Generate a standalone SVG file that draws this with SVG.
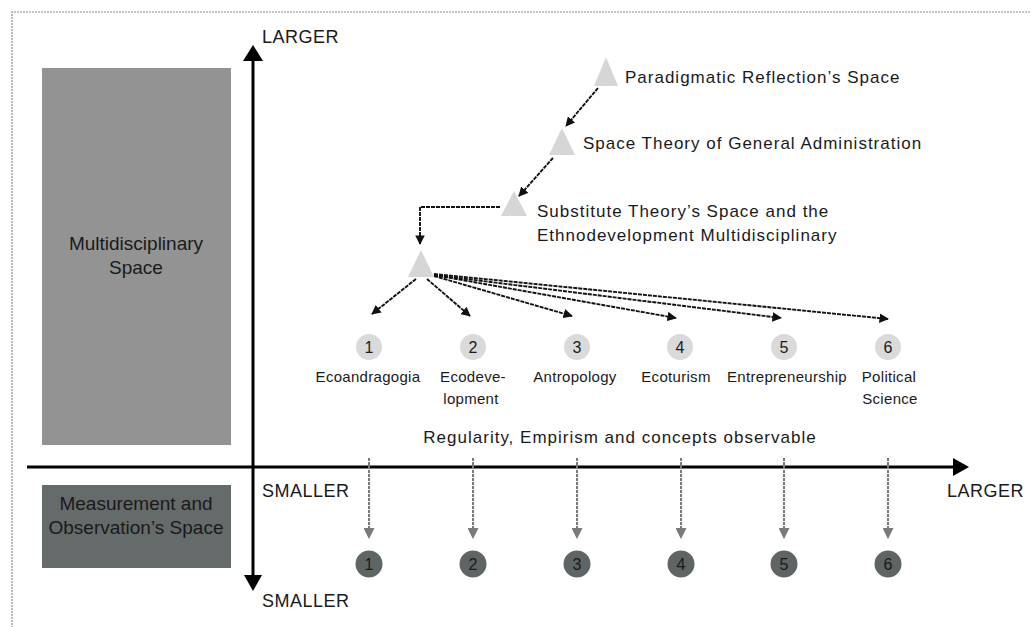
<svg xmlns="http://www.w3.org/2000/svg" width="1030" height="627" viewBox="0 0 1030 627">
<defs>
<style>
text{font-family:"Liberation Sans",Arial,sans-serif;fill:#1a1a1a}
.axis{stroke:#000;stroke-width:3;fill:none}
.ax-lbl{font-size:18px;letter-spacing:0.5px}
.title{font-size:17px;letter-spacing:1px}
.lbl{font-size:15px;letter-spacing:0.3px;text-anchor:middle}
.num{font-size:16px;text-anchor:middle}
.box-t{font-size:19px;text-anchor:middle}
.tri{fill:#d6d6d6}
.c-top{fill:#dadada}
.c-bot{fill:#5f6464}
.con{stroke:#111;stroke-width:1.9;fill:none;stroke-dasharray:4 1}
.con-g{stroke:#7a7a7a;stroke-width:2;fill:none;stroke-dasharray:3 1}
</style>
<marker id="ah" viewBox="0 0 10 10" refX="9" refY="5" markerWidth="5" markerHeight="5" orient="auto" markerUnits="strokeWidth">
<path d="M0,0 L10,5 L0,10 z" fill="#111"/>
</marker>
<marker id="ahg" viewBox="0 0 10 10" refX="9" refY="5" markerWidth="5.5" markerHeight="5.5" orient="auto" markerUnits="strokeWidth">
<path d="M0,0 L10,5 L0,10 z" fill="#7a7a7a"/>
</marker>
</defs>
<rect width="1030" height="627" fill="#fff"/>
<!-- frame -->
<path d="M1030,12 H12 V627" fill="none" stroke="#8a8a8a" stroke-width="1.2" stroke-dasharray="2 1"/>

<!-- spaces -->
<g id="multidisciplinary-space">
<rect x="42" y="68" width="189" height="377" fill="#939393"/>
<text class="box-t" x="136" y="250">Multidisciplinary</text>
<text class="box-t" x="136" y="274">Space</text>
</g>
<g id="measurement-space">
<rect x="42" y="485" width="189" height="83" fill="#656a6a"/>
<text class="box-t" x="136" y="510">Measurement and</text>
<text class="box-t" x="136" y="534">Observation’s Space</text>
</g>

<!-- axes -->
<g id="axes">
<line class="axis" x1="253" y1="58" x2="253" y2="578"/>
<path d="M253,45 L263,61 L243,61 z" fill="#000"/>
<path d="M253,591 L262,575 L244,575 z" fill="#000"/>
<line class="axis" x1="27" y1="467" x2="955" y2="467"/>
<path d="M969,467 L953,458 L953,476 z" fill="#000"/>
<text class="ax-lbl" x="262" y="43">LARGER</text>
<text class="ax-lbl" x="262" y="497">SMALLER</text>
<text class="ax-lbl" x="262" y="607">SMALLER</text>
<text class="ax-lbl" x="947" y="497">LARGER</text>
</g>

<!-- connectors -->
<g id="connectors">
<line class="con" x1="598" y1="88" x2="566" y2="126" marker-end="url(#ah)"/>
<line class="con" x1="553" y1="158" x2="519" y2="196" marker-end="url(#ah)"/>
<polyline class="con" points="500,207 420,207 420,244" marker-end="url(#ah)"/>
<line class="con" x1="416" y1="279" x2="372" y2="314" marker-end="url(#ah)"/>
<line class="con" x1="427" y1="279" x2="470" y2="316" marker-end="url(#ah)"/>
<line class="con" x1="434" y1="276" x2="572" y2="316" marker-end="url(#ah)"/>
<line class="con" x1="434" y1="275" x2="676" y2="318" marker-end="url(#ah)"/>
<line class="con" x1="434" y1="275" x2="781" y2="318" marker-end="url(#ah)"/>
<line class="con" x1="434" y1="274" x2="888" y2="319" marker-end="url(#ah)"/>
<line class="con-g" x1="369" y1="458" x2="369" y2="538" marker-end="url(#ahg)"/>
<line class="con-g" x1="473" y1="458" x2="473" y2="538" marker-end="url(#ahg)"/>
<line class="con-g" x1="577" y1="458" x2="577" y2="538" marker-end="url(#ahg)"/>
<line class="con-g" x1="681" y1="458" x2="681" y2="538" marker-end="url(#ahg)"/>
<line class="con-g" x1="784" y1="458" x2="784" y2="538" marker-end="url(#ahg)"/>
<line class="con-g" x1="888" y1="458" x2="888" y2="538" marker-end="url(#ahg)"/>
</g>

<!-- hierarchy nodes -->
<g id="paradigmatic">
<path class="tri" d="M606,57 L618,86 L594,86 z"/>
<text class="title" x="625" y="83">Paradigmatic Reflection’s Space</text>
</g>
<g id="general-administration">
<path class="tri" d="M562,128 L575,155 L549,155 z"/>
<text class="title" x="583" y="149">Space Theory of General Administration</text>
</g>
<g id="substitute-theory">
<path class="tri" d="M514,191 L527,216 L501,216 z"/>
<text class="title" x="537" y="217">Substitute Theory’s Space and the</text>
<text class="title" x="537" y="241">Ethnodevelopment Multidisciplinary</text>
</g>
<g id="disciplines-root">
<path class="tri" d="M421,250 L434,277 L408,277 z"/>
</g>

<!-- disciplines -->
<g id="d1"><circle class="c-top" cx="369" cy="347" r="13"/><text class="num" x="369" y="353">1</text><text class="lbl" x="368" y="382">Ecoandragogia</text></g>
<g id="d2"><circle class="c-top" cx="473" cy="347" r="13"/><text class="num" x="473" y="353">2</text><text class="lbl" x="473" y="382">Ecodeve-</text><text class="lbl" x="471" y="404">lopment</text></g>
<g id="d3"><circle class="c-top" cx="577" cy="347" r="13"/><text class="num" x="577" y="353">3</text><text class="lbl" x="575" y="382">Antropology</text></g>
<g id="d4"><circle class="c-top" cx="680" cy="347" r="13"/><text class="num" x="680" y="353">4</text><text class="lbl" x="676" y="382">Ecoturism</text></g>
<g id="d5"><circle class="c-top" cx="784" cy="347" r="13"/><text class="num" x="784" y="353">5</text><text class="lbl" x="787" y="382">Entrepreneurship</text></g>
<g id="d6"><circle class="c-top" cx="888" cy="347" r="13"/><text class="num" x="888" y="353">6</text><text class="lbl" x="889" y="382">Political</text><text class="lbl" x="890" y="404">Science</text></g>

<g id="observable-caption">
<text class="title" x="620" y="443" text-anchor="middle">Regularity, Empirism and concepts observable</text>
</g>

<!-- measurement nodes -->
<g id="m1"><circle class="c-bot" cx="369" cy="564" r="13.5"/><text class="num" x="369" y="570">1</text></g>
<g id="m2"><circle class="c-bot" cx="473" cy="564" r="13.5"/><text class="num" x="473" y="570">2</text></g>
<g id="m3"><circle class="c-bot" cx="577" cy="564" r="13.5"/><text class="num" x="577" y="570">3</text></g>
<g id="m4"><circle class="c-bot" cx="681" cy="564" r="13.5"/><text class="num" x="681" y="570">4</text></g>
<g id="m5"><circle class="c-bot" cx="784" cy="564" r="13.5"/><text class="num" x="784" y="570">5</text></g>
<g id="m6"><circle class="c-bot" cx="888" cy="564" r="13.5"/><text class="num" x="888" y="570">6</text></g>
</svg>
